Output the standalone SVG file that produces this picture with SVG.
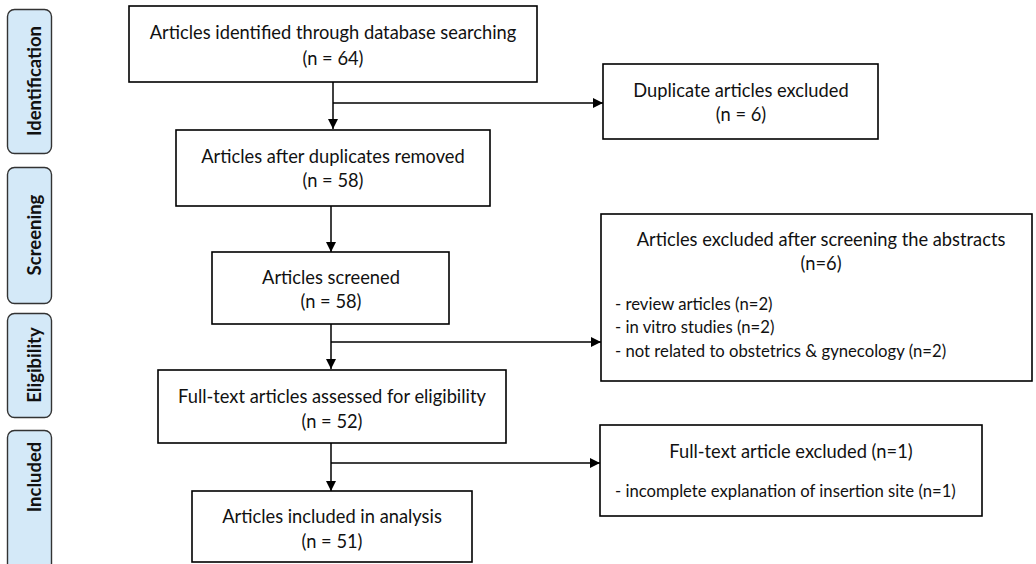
<svg xmlns="http://www.w3.org/2000/svg" width="1036" height="564" viewBox="0 0 1036 564">
<defs>
<marker id="ah" viewBox="0 0 10 10" refX="10" refY="5" markerWidth="10" markerHeight="10" markerUnits="userSpaceOnUse" orient="auto">
<path d="M0,0 L10,5 L0,10 Z" fill="#000"/>
</marker>
</defs>
<style>
.box{fill:#fff;stroke:#000;stroke-width:1.6}
.phase{fill:#d4e9f8;stroke:#333;stroke-width:1.4}
.t{font-family:Lato,"Liberation Sans",sans-serif;font-size:18.3px;fill:#111}
.s{font-family:Lato,"Liberation Sans",sans-serif;font-size:16.7px;fill:#111}
.c{text-anchor:middle}
.ph{font-family:Lato,"Liberation Sans",sans-serif;font-size:18.5px;font-weight:bold;fill:#111;text-anchor:middle}
.ln{stroke:#000;stroke-width:1.5;fill:none}
</style>
<rect width="1036" height="564" fill="#fff"/>
<g id="phase-identification"><rect class="phase" x="7.5" y="9.5" width="44" height="144" rx="7"/><text class="ph" transform="translate(35,81) rotate(-90)" y="6">Identification</text></g>
<g id="phase-screening"><rect class="phase" x="7.5" y="167.5" width="44" height="136" rx="7"/><text class="ph" transform="translate(35,235) rotate(-90)" y="6">Screening</text></g>
<g id="phase-eligibility"><rect class="phase" x="7.5" y="313.5" width="44" height="104" rx="7"/><text class="ph" transform="translate(35,365) rotate(-90)" y="6">Eligibility</text></g>
<g id="phase-included"><rect class="phase" x="7.5" y="430.5" width="44" height="150" rx="7"/><text class="ph" transform="translate(35,477) rotate(-90)" y="6">Included</text></g>

<g id="connectors">
<line class="ln" x1="333" y1="82" x2="333" y2="129" marker-end="url(#ah)"/>
<line class="ln" x1="333" y1="103" x2="603" y2="103" marker-end="url(#ah)"/>
<line class="ln" x1="331" y1="206" x2="331" y2="252" marker-end="url(#ah)"/>
<line class="ln" x1="331" y1="324" x2="331" y2="369" marker-end="url(#ah)"/>
<line class="ln" x1="331" y1="342" x2="601" y2="342" marker-end="url(#ah)"/>
<line class="ln" x1="331" y1="443" x2="331" y2="491" marker-end="url(#ah)"/>
<line class="ln" x1="331" y1="463" x2="600" y2="463" marker-end="url(#ah)"/>
</g>

<g id="n-identified"><rect class="box" x="129" y="6" width="408" height="76"/><text class="t c" x="333" y="39">Articles identified through database searching</text><text class="t c" x="333" y="65">(n = 64)</text></g>
<g id="n-duplicates"><rect class="box" x="603" y="64" width="275" height="75"/><text class="t c" x="741" y="97">Duplicate articles excluded</text><text class="t c" x="741" y="121">(n = 6)</text></g>
<g id="n-after-dup"><rect class="box" x="176" y="130" width="314" height="76"/><text class="t c" x="333" y="163">Articles after duplicates removed</text><text class="t c" x="333" y="187">(n = 58)</text></g>
<g id="n-screened"><rect class="box" x="212" y="252" width="237" height="72"/><text class="t c" x="331" y="284">Articles screened</text><text class="t c" x="331" y="308">(n = 58)</text></g>
<g id="n-abstracts"><rect class="box" x="601" y="214" width="431" height="167"/><text class="t c" x="821" y="246">Articles excluded after screening the abstracts</text><text class="t c" x="821" y="270">(n=6)</text><text class="s" x="615" y="310">- review articles (n=2)</text><text class="s" x="615" y="333">- in vitro studies (n=2)</text><text class="s" x="615" y="357">- not related to obstetrics &amp; gynecology (n=2)</text></g>
<g id="n-fulltext"><rect class="box" x="158" y="370" width="348" height="73"/><text class="t c" x="332" y="403">Full-text articles assessed for eligibility</text><text class="t c" x="332" y="428">(n = 52)</text></g>
<g id="n-ft-excluded"><rect class="box" x="600" y="425" width="382" height="91"/><text class="t c" x="791" y="458">Full-text article excluded (n=1)</text><text class="s" x="615" y="497">- incomplete explanation of insertion site (n=1)</text></g>
<g id="n-included"><rect class="box" x="192" y="491" width="280" height="71"/><text class="t c" x="332" y="523">Articles included in analysis</text><text class="t c" x="332" y="548">(n = 51)</text></g>
</svg>
